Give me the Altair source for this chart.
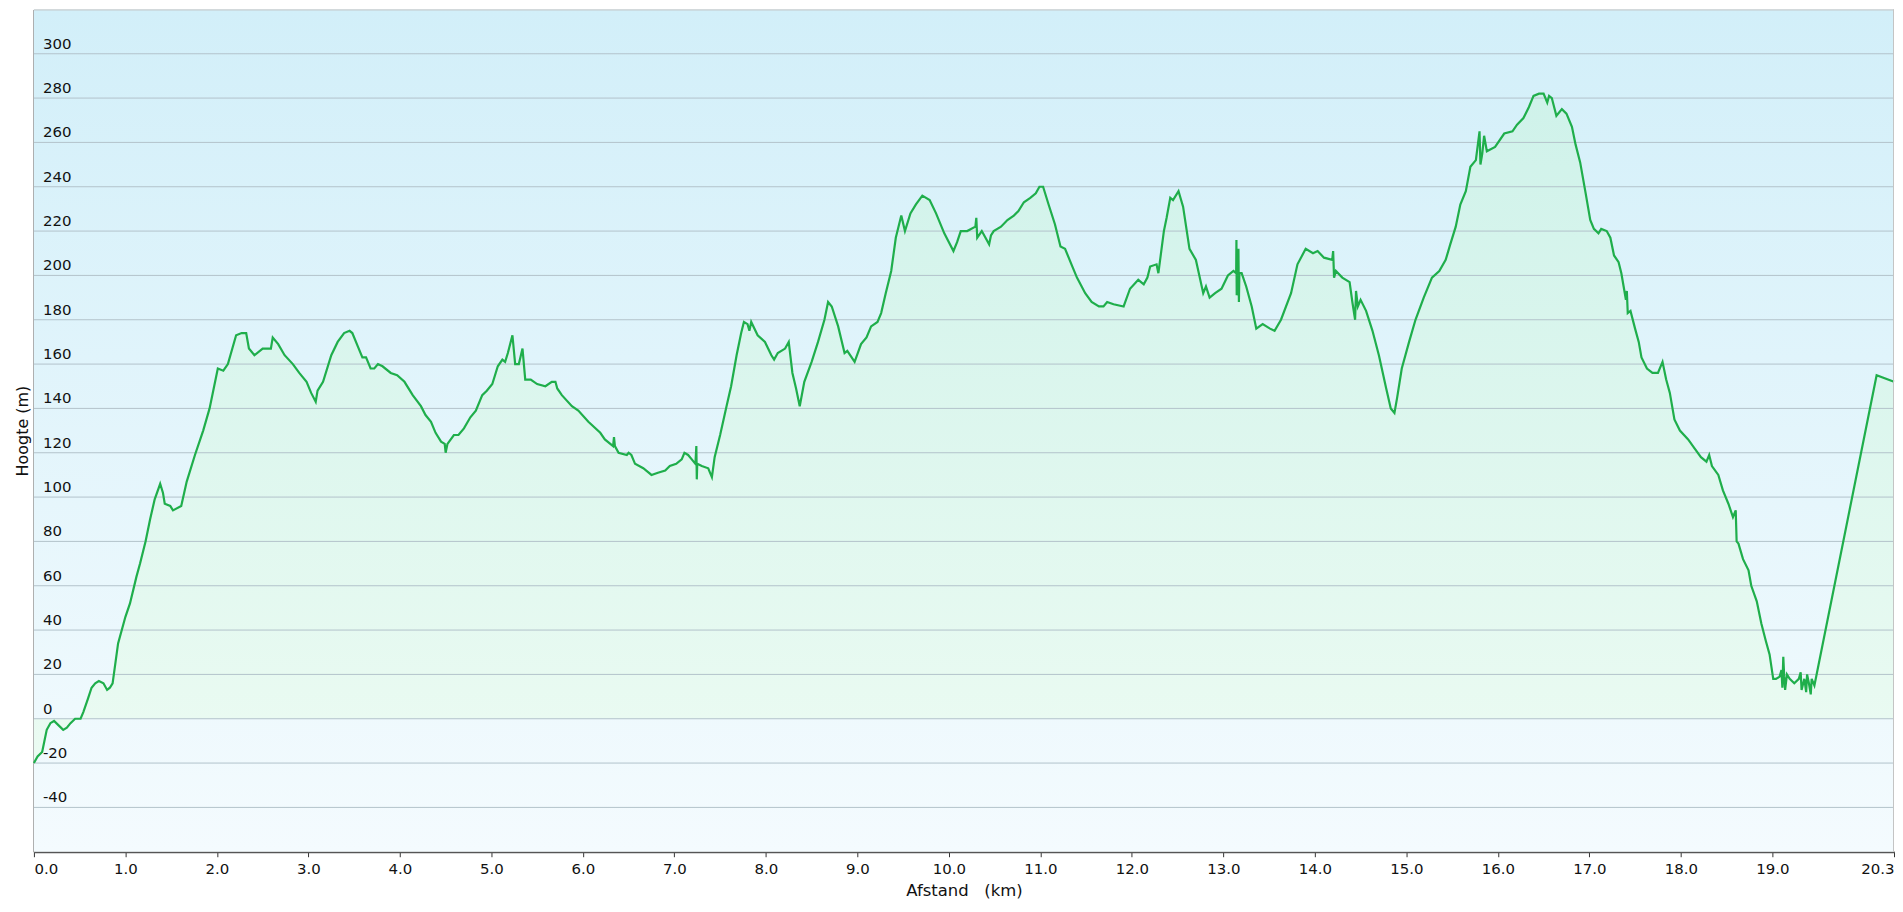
import altair as alt
import pandas as pd

distance_km = [
    0.00, 0.04, 0.09, 0.14, 0.18, 0.22, 0.27, 0.32, 0.36, 0.40, 0.45, 0.51, 0.54, 0.59, 0.63, 0.67, 0.71, 0.76, 0.80, 0.83,
    0.86, 0.92, 1.00, 1.05, 1.12, 1.16, 1.22, 1.27, 1.32, 1.38, 1.41, 1.43, 1.49, 1.52, 1.61, 1.67, 1.76, 1.85, 1.92, 2.01,
    2.07, 2.12, 2.21, 2.27, 2.32, 2.35, 2.41, 2.50, 2.56, 2.59, 2.61, 2.67, 2.74, 2.83, 2.90, 2.98, 3.03, 3.08, 3.10, 3.16,
    3.25, 3.32, 3.39, 3.45, 3.48, 3.54, 3.59, 3.63, 3.68, 3.72, 3.76, 3.81, 3.90, 3.97, 4.05, 4.14, 4.23, 4.28, 4.34, 4.39,
    4.45, 4.49, 4.50, 4.52, 4.59, 4.64, 4.70, 4.77, 4.83, 4.90, 4.95, 5.01, 5.07, 5.12, 5.15, 5.18, 5.23, 5.26, 5.30, 5.34,
    5.37, 5.43, 5.50, 5.59, 5.66, 5.70, 5.72, 5.77, 5.88, 5.95, 6.06, 6.19, 6.24, 6.33, 6.34, 6.35, 6.39, 6.48, 6.50, 6.53,
    6.57, 6.66, 6.75, 6.82, 6.90, 6.95, 7.02, 7.08, 7.11, 7.15, 7.19, 7.23, 7.24, 7.245, 7.25, 7.30, 7.37, 7.41, 7.44, 7.50,
    7.57, 7.62, 7.68, 7.73, 7.76, 7.80, 7.82, 7.84, 7.91, 7.99, 8.06, 8.09, 8.13, 8.21, 8.25, 8.29, 8.33, 8.37, 8.42, 8.50,
    8.57, 8.64, 8.68, 8.72, 8.79, 8.86, 8.89, 8.97, 9.04, 9.10, 9.15, 9.22, 9.26, 9.31, 9.37, 9.42, 9.48, 9.52, 9.58, 9.64,
    9.71, 9.79, 9.86, 9.95, 10.05, 10.09, 10.13, 10.20, 10.29, 10.30, 10.31, 10.36, 10.44, 10.46, 10.49, 10.57, 10.64, 10.71, 10.76, 10.82,
    10.89, 10.95, 10.99, 11.03, 11.09, 11.16, 11.22, 11.27, 11.35, 11.40, 11.49, 11.56, 11.64, 11.69, 11.73, 11.80, 11.91, 11.98, 12.07, 12.13,
    12.17, 12.20, 12.27, 12.29, 12.35, 12.38, 12.42, 12.45, 12.51, 12.56, 12.63, 12.70, 12.78, 12.81, 12.85, 12.91, 12.98, 13.05, 13.11, 13.14,
    13.143, 13.146, 13.15, 13.165, 13.17, 13.175, 13.20, 13.25, 13.31, 13.36, 13.43, 13.51, 13.56, 13.63, 13.74, 13.81, 13.90, 13.98, 14.03, 14.10,
    14.19, 14.20, 14.21, 14.23, 14.30, 14.38, 14.41, 14.44, 14.45, 14.47, 14.50, 14.56, 14.63, 14.70, 14.78, 14.83, 14.87, 14.90, 14.95, 15.03,
    15.10, 15.19, 15.28, 15.36, 15.43, 15.48, 15.54, 15.59, 15.65, 15.70, 15.76, 15.80, 15.81, 15.83, 15.85, 15.88, 15.97, 16.07, 16.16, 16.21,
    16.28, 16.34, 16.39, 16.45, 16.50, 16.54, 16.56, 16.59, 16.64, 16.70, 16.75, 16.81, 16.85, 16.90, 16.96, 17.01, 17.05, 17.10, 17.13, 17.19,
    17.23, 17.27, 17.32, 17.35, 17.40, 17.41, 17.42, 17.45, 17.50, 17.54, 17.57, 17.63, 17.69, 17.75, 17.80, 17.84, 17.88, 17.93, 17.99, 18.08,
    18.15, 18.22, 18.28, 18.31, 18.34, 18.41, 18.46, 18.52, 18.57, 18.60, 18.61, 18.63, 18.68, 18.74, 18.77, 18.83, 18.88, 18.93, 18.97, 19.01,
    19.04, 19.08, 19.10, 19.11, 19.12, 19.13, 19.14, 19.16, 19.19, 19.24, 19.29, 19.31, 19.32, 19.35, 19.37, 19.38, 19.40, 19.42, 19.43, 19.46,
    20.14, 20.33,
]

elevation_m = [
    -20, -17, -15, -5, -2, -1, -3, -5, -4, -2, 0, 0, 3, 9, 14, 16, 17, 16, 13, 14,
    16, 34, 46, 52, 64, 70, 80, 90, 99, 106, 102, 97, 96, 94, 96, 107, 119, 130, 140, 158,
    157, 160, 173, 174, 174, 167, 164, 167, 167, 167, 172, 169, 164, 160, 156, 152, 147, 143, 148, 152,
    164, 170, 174, 175, 174, 168, 163, 163, 158, 158, 160, 159, 156, 155, 152, 146, 141, 137, 134, 129,
    125, 124, 120, 124, 128, 128, 131, 136, 139, 146, 148, 151, 159, 162, 161, 165, 173, 160, 160, 167,
    153, 153, 151, 150, 152, 152, 149, 146, 141, 139, 134, 129, 126, 123, 127, 123, 120, 119, 120, 119,
    115, 113, 110, 111, 112, 114, 115, 117, 120, 119, 117, 115, 123, 108, 115, 114, 113, 109, 118, 128,
    141, 150, 164, 174, 179, 178, 175, 179, 173, 170, 164, 162, 165, 167, 170, 156, 149, 141, 152, 161,
    170, 180, 188, 186, 177, 165, 166, 161, 169, 172, 177, 179, 183, 192, 202, 217, 227, 220, 228, 232,
    236, 234, 228, 219, 211, 215, 220, 220, 222, 226, 217, 220, 214, 218, 220, 222, 225, 227, 229, 233,
    235, 237, 240, 240, 232, 223, 213, 212, 204, 199, 192, 188, 186, 186, 188, 187, 186, 194, 198, 196,
    199, 204, 205, 201, 220, 226, 235, 234, 238, 231, 212, 207, 192, 195, 190, 192, 194, 200, 202, 201,
    216, 191, 201, 212, 188, 201, 201, 195, 186, 176, 178, 176, 175, 180, 192, 205, 212, 210, 211, 208,
    207, 211, 199, 202, 199, 197, 188, 180, 193, 186, 189, 184, 175, 164, 149, 140, 138, 145, 158, 170,
    180, 190, 199, 202, 207, 214, 222, 232, 238, 249, 252, 265, 250, 255, 263, 256, 258, 264, 265, 268,
    271, 276, 281, 282, 282, 278, 281, 280, 272, 275, 273, 267, 259, 251, 237, 225, 221, 219, 221, 220,
    217, 209, 206, 201, 189, 193, 183, 184, 176, 170, 163, 158, 156, 156, 161, 153, 147, 135, 130, 126,
    122, 118, 116, 119, 114, 110, 103, 97, 91, 94, 80, 79, 72, 67, 60, 53, 43, 35, 29, 18,
    18, 19, 22, 14, 28, 19, 13, 20, 18, 16, 18, 21, 13, 18, 12, 20, 16, 11, 18, 15,
    155, 152,
]

y_tick_values = [-40, -20, 0, 20, 40, 60, 80, 100, 120, 140, 160, 180, 200, 220, 240, 260, 280, 300]
x_tick_values = [0, 1, 2, 3, 4, 5, 6, 7, 8, 9, 10, 11, 12, 13, 14, 15, 16, 17, 18, 19, 20.33]
x_domain = [0, 20.33]
y_domain = [-60, 320]

W, H = 1866, 845
FONT = "DejaVu Sans"

df = pd.DataFrame({"km": distance_km, "h": elevation_m})
grid_df = pd.DataFrame({"km": [0] * len(y_tick_values), "h": y_tick_values})
one = pd.DataFrame({"a": [0]})

xs = alt.Scale(domain=x_domain, nice=False, zero=False)
ys = alt.Scale(domain=y_domain, nice=False, zero=False)

x_axis = alt.Axis(
    values=x_tick_values, format=".1f", title="Afstand\u00a0\u00a0\u00a0(km)",
    labelFont=FONT, labelFontSize=15, labelColor="#111111", labelPadding=5,
    tickColor="#333333", tickSize=5, tickWidth=1,
    domainColor="#555555", domainWidth=2, grid=False,
    titleFont=FONT, titleFontSize=16.5, titleFontWeight="normal", titleColor="#111111",
    titlePadding=6, labelFlush=True, labelOverlap=False,
)
y_axis = alt.Axis(
    labels=False, ticks=False, grid=False, domainColor="#6b6b6b", domainWidth=2,
    title="Hoogte (m)", titleFont=FONT, titleFontSize=16, titleFontWeight="normal",
    titleColor="#111111", titlePadding=3,
)

X = alt.X("km:Q", scale=xs, axis=x_axis)
Y = alt.Y("h:Q", scale=ys, axis=y_axis)

bg = alt.Chart(one).mark_rect(
    color=alt.LinearGradient(
        gradient="linear",
        stops=[alt.GradientStop(color="#d2eff9", offset=0),
               alt.GradientStop(color="#f4fbfe", offset=1)],
        x1=0, x2=0, y1=0, y2=1,
    )
).encode(x=alt.value(0), x2=alt.value(W), y=alt.value(0), y2=alt.value(H))

area = alt.Chart(df).mark_area(
    color=alt.LinearGradient(
        gradient="linear",
        stops=[alt.GradientStop(color="#cff2ea", offset=0),
               alt.GradientStop(color="#ebfbf2", offset=1)],
        x1=0, x2=0, y1=0, y2=1,
    )
).encode(x=X, y=Y, y2=alt.value(H))

grid = alt.Chart(grid_df).mark_rule(color="#b3c3cb", strokeWidth=1).encode(y=Y)

ylabels = alt.Chart(grid_df).transform_calculate(
    lab="'' + datum.h"
).mark_text(
    align="left", baseline="alphabetic", dy=-5, fontSize=15, font=FONT, color="#111111"
).encode(
    x=alt.value(9),
    y=Y,
    text=alt.Text("lab:N"),
)

line = alt.Chart(df).mark_line(color="#1fae4b", strokeWidth=2.2).encode(x=X, y=Y)

top_border = alt.Chart(one).mark_rule(color="#c4c4c4", strokeWidth=1).encode(
    x=alt.value(0), x2=alt.value(W), y=alt.value(0.5)
)
right_border = alt.Chart(one).mark_rule(color="#c4c4c4", strokeWidth=1).encode(
    x=alt.value(W - 0.5), y=alt.value(0), y2=alt.value(H)
)

chart = alt.layer(bg, area, grid, ylabels, line, top_border, right_border).properties(
    width=W, height=H,
    padding={"left": 26, "top": 0, "right": 1, "bottom": 50},
    autosize=alt.AutoSizeParams(type="none"),
).configure_view(stroke=None).configure_axis(zindex=1)

chart.save("out.html", embed_options={"renderer": "svg", "actions": False})
